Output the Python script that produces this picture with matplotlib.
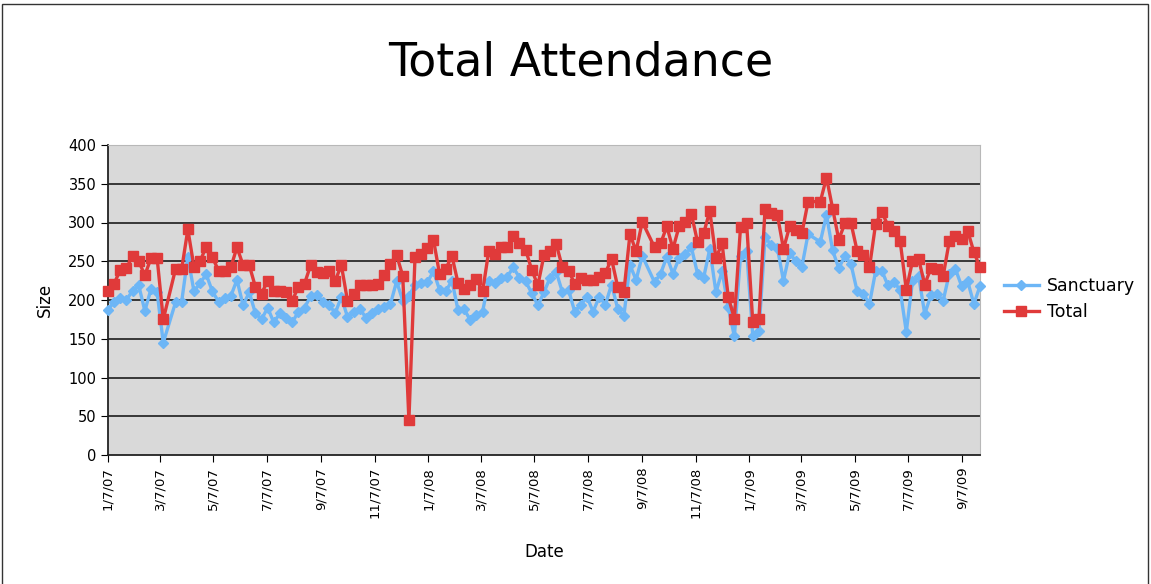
import matplotlib.pyplot as plt
import matplotlib.patches as patches
import pandas as pd

# weekly counts, first Sunday 1/7/07; three weeks have no data
start_week = '2007-01-07'
n_weeks = 143
missing_weeks = ['2007-03-18', '2008-09-14', '2009-03-22']

sanctuary = [187, 198, 203, 200, 212, 219, 186, 214, 210, 145,
             197, 198, 256, 211, 222, 233, 211, 198, 202, 205, 226, 193, 210,
             183, 175, 190, 171, 183, 177, 171, 185, 190, 205, 207, 198, 194, 183, 204, 178,
             184, 189, 177, 183, 189, 191, 195, 224, 199, 205,
             220, 222, 223, 237, 213, 211, 225, 187, 188, 174, 181, 185, 225, 222, 229, 230,
             242, 229, 224, 209,
             193, 210, 229, 236, 210, 213, 185, 194, 204, 185, 204, 194, 220, 189, 179, 245, 226, 257,
             223, 234, 256, 234, 254, 259, 268, 234, 229, 266, 210, 237, 191, 153, 257, 263,
             154, 160, 281, 271, 267, 225, 261, 250, 243, 285,
             275, 310, 264, 241, 257, 246, 211, 208, 195, 237, 238, 219, 223, 213, 159, 224,
             231, 182, 206, 208, 199, 234, 240, 218, 224, 195, 218]

total = [212, 221, 239, 241, 257, 250, 232, 254, 254, 175,
         240, 240, 291, 243, 250, 269, 255, 238, 237, 242, 268, 245, 245,
         217, 208, 225, 211, 211, 210, 199, 217, 221, 245, 236, 235, 237, 225, 245, 199,
         208, 219, 219, 219, 221, 232, 247, 258, 231, 45,
         256, 260, 267, 278, 233, 240, 257, 222, 214, 219, 227, 211, 263, 259, 268, 268,
         282, 273, 265, 239,
         219, 258, 263, 272, 242, 238, 221, 228, 226, 226, 230, 235, 253, 217, 210, 285, 263, 301,
         268, 273, 295, 266, 295, 301, 311, 275, 286, 315, 254, 273, 204, 176, 294, 299,
         171, 176, 318, 312, 310, 266, 295, 290, 286, 327,
         327, 358, 318, 278, 299, 299, 263, 258, 242, 298, 314, 296, 289, 276, 213, 250,
         253, 220, 241, 240, 231, 276, 282, 279, 289, 262, 242]

weeks = pd.date_range(start_week, periods=n_weeks, freq='7D')
dates = weeks[~weeks.isin(pd.to_datetime(missing_weeks))]

tick_dates = pd.date_range('2007-01-01', '2009-09-01', freq='2MS') + pd.Timedelta(days=6)
tick_labels = [f'{d.month}/{d.day}/{d:%y}' for d in tick_dates]

blue = '#6db6f6'
red = '#e03a3a'

fig = plt.figure(figsize=(11.51, 5.84), dpi=100)
ax = fig.add_axes([108 / 1151, 1 - 455 / 584, 872 / 1151, 310 / 584])
ax.set_facecolor('#d9d9d9')

ax.plot(dates, sanctuary, color=blue, lw=2.4, marker='D', ms=5.5, label='Sanctuary',
        clip_on=False, zorder=3)
ax.plot(dates, total, color=red, lw=2.4, marker='s', ms=6.8, label='Total',
        clip_on=False, zorder=4)

ax.set_ylim(0, 400)
ax.set_yticks(range(0, 401, 50))
ax.set_xlim(dates[0], dates[-1])
ax.set_xticks(tick_dates)
ax.set_xticklabels(tick_labels, rotation=90, fontsize=9.5)
ax.tick_params(axis='y', labelsize=10.5, length=5, direction='out')
ax.tick_params(axis='x', length=5, direction='out')

for v in range(50, 400, 50):
    ax.axhline(v, color='#2b2b2b', lw=1.3, zorder=1)

for s in ['top', 'right']:
    ax.spines[s].set_color('#b8b8b8')
for s in ['left', 'bottom']:
    ax.spines[s].set_color('#222222')
    ax.spines[s].set_linewidth(1.3)

ax.set_ylabel('Size', fontsize=12, labelpad=10)
ax.set_xlabel('Date', fontsize=12, labelpad=18)
fig.text(581 / 1151, 1 - 63 / 584, 'Total Attendance', fontsize=33,
         ha='center', va='center')

fig.legend(*ax.get_legend_handles_labels(), loc='center left',
           bbox_to_anchor=(1004 / 1151, 1 - 299 / 584), frameon=False,
           fontsize=12.5, handlelength=2.0, handletextpad=0.45,
           labelspacing=0.45, borderpad=0, borderaxespad=0)

fig.patches.append(patches.Rectangle((2 / 1151, -0.01), 1146 / 1151, 1 - 4 / 584 + 0.01,
                                     transform=fig.transFigure, fill=False,
                                     edgecolor='#333333', lw=1))

fig.savefig('out.png', dpi=100)
